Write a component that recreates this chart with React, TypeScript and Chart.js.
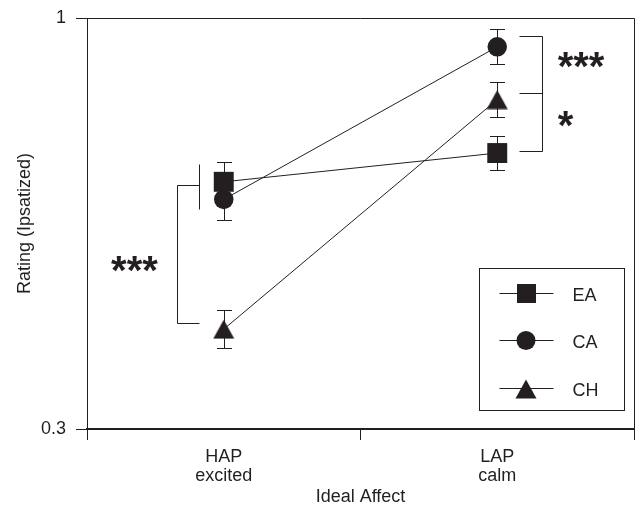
import React, { useEffect, useRef } from 'react';
import { Chart, registerables } from 'chart.js';

Chart.register(...registerables);

// ---------- data ----------
const categories: string[][] = [['HAP', 'excited'], ['LAP', 'calm']];
const categoryX = [0.5, 1.5];
const xTickValues = [0, 0.5, 1, 1.5, 2];
const yTickValues = [0.3, 1];
const yTickLabels = ['0.3', '1'];
const groupLabels = ['EA', 'CA', 'CH'];
const eaValues = [0.721, 0.77];
const caValues = [0.691, 0.951];
const chValues = [0.47, 0.861];
const eaErrors = [0.034, 0.0295];
const caErrors = [0.035, 0.03];
const chErrors = [0.032, 0.0295];

// significance brackets (axis units)
const bracketPaths: number[][][] = [
  [[0.411, 0.716], [0.329, 0.716], [0.329, 0.481], [0.411, 0.481]],
  [[0.411, 0.752], [0.411, 0.674]],
  [[1.58, 0.969], [1.665, 0.969], [1.665, 0.773], [1.58, 0.773]],
  [[1.58, 0.872], [1.665, 0.872]],
];
const starLabels = ['***', '***', '*'];
const starX = [0.088, 1.721, 1.721];
const starY = [0.581, 0.928, 0.8275];

const INK = '#231f20';
const FONT = "'Liberation Sans', Arial, Helvetica, sans-serif";

function makeTriangle(): HTMLCanvasElement {
  const c = document.createElement('canvas');
  c.width = 22;
  c.height = 20;
  const g = c.getContext('2d')!;
  g.fillStyle = INK;
  g.beginPath();
  g.moveTo(11, 0.5);
  g.lineTo(21.5, 19.5);
  g.lineTo(0.5, 19.5);
  g.closePath();
  g.fill();
  return c;
}

export default function App() {
  const ref = useRef<HTMLCanvasElement | null>(null);

  useEffect(() => {
    if (!ref.current) return;
    const tri = makeTriangle();
    const values = [eaValues, caValues, chValues];
    const errors = [eaErrors, caErrors, chErrors];
    const styles: any[] = ['rect', 'circle', tri];
    const radii = [14.1, 9.75, 10];

    const errorBarPlugin = {
      id: 'errorBars',
      beforeDatasetsDraw(chart: any) {
        const { ctx } = chart;
        const y = chart.scales.y;
        ctx.save();
        ctx.strokeStyle = INK;
        ctx.lineWidth = 1;
        chart.data.datasets.forEach((ds: any, di: number) => {
          const meta = chart.getDatasetMeta(di);
          meta.data.forEach((pt: any, i: number) => {
            const v = values[di][i];
            const e = errors[di][i];
            const x = Math.round(pt.x) + 0.5;
            const yt = Math.round(y.getPixelForValue(v + e)) + 0.5;
            const yb = Math.round(y.getPixelForValue(v - e)) + 0.5;
            ctx.beginPath();
            ctx.moveTo(x, yt);
            ctx.lineTo(x, yb);
            ctx.moveTo(x - 7.5, yt);
            ctx.lineTo(x + 7.5, yt);
            ctx.moveTo(x - 7.5, yb);
            ctx.lineTo(x + 7.5, yb);
            ctx.stroke();
          });
        });
        ctx.restore();
      },
    };

    const annotationPlugin = {
      id: 'annotations',
      afterDatasetsDraw(chart: any) {
        const { ctx } = chart;
        const xs = chart.scales.x;
        const ys = chart.scales.y;
        ctx.save();
        ctx.strokeStyle = INK;
        ctx.lineWidth = 1;
        bracketPaths.forEach((path) => {
          ctx.beginPath();
          path.forEach(([vx, vy], i) => {
            const px = Math.round(xs.getPixelForValue(vx)) + 0.5;
            const py = Math.round(ys.getPixelForValue(vy)) + 0.5;
            if (i === 0) ctx.moveTo(px, py);
            else ctx.lineTo(px, py);
          });
          ctx.stroke();
        });
        ctx.fillStyle = INK;
        ctx.font = `bold 40px ${FONT}`;
        ctx.textAlign = 'left';
        ctx.textBaseline = 'alphabetic';
        starLabels.forEach((s, i) => {
          const m = ctx.measureText(s);
          const cx = xs.getPixelForValue(starX[i]);
          const cy = ys.getPixelForValue(starY[i]);
          const baseline = cy + (m.actualBoundingBoxAscent - m.actualBoundingBoxDescent) / 2;
          ctx.fillText(s, cx + m.actualBoundingBoxLeft, baseline);
        });
        ctx.restore();
      },
    };

    const framePlugin = {
      id: 'frame',
      afterDraw(chart: any) {
        const { ctx, chartArea: a } = chart;
        ctx.save();
        ctx.strokeStyle = INK;
        ctx.lineWidth = 1;
        ctx.beginPath();
        ctx.moveTo(a.left, Math.round(a.top) + 0.5);
        ctx.lineTo(Math.round(a.right) + 0.5, Math.round(a.top) + 0.5);
        ctx.lineTo(Math.round(a.right) + 0.5, a.bottom);
        ctx.stroke();

        // legend
        const bx = Math.round(a.right - 155) + 0.5;
        const by = Math.round(a.bottom - 161) + 0.5;
        ctx.strokeRect(bx, by, 145, 142);
        ctx.fillStyle = INK;
        ctx.font = `18px ${FONT}`;
        ctx.textAlign = 'left';
        ctx.textBaseline = 'middle';
        groupLabels.forEach((label, i) => {
          const ry = Math.round(by + 24 + i * 47.5);
          const mx = bx + 46.5;
          ctx.beginPath();
          ctx.moveTo(bx + 20, ry + 0.5);
          ctx.lineTo(bx + 74, ry + 0.5);
          ctx.stroke();
          if (i === 0) {
            ctx.fillRect(Math.round(mx - 9.5), ry - 9, 19, 19);
          } else if (i === 1) {
            ctx.beginPath();
            ctx.arc(mx, ry + 0.5, 9.5, 0, Math.PI * 2);
            ctx.fill();
          } else {
            ctx.drawImage(tri, Math.round(mx - 11), ry - 9);
          }
          ctx.fillText(label, bx + 93, ry + 3);
        });
        ctx.restore();
      },
    };

    const chart = new Chart(ref.current, {
      type: 'line',
      data: {
        datasets: groupLabels.map((label, di) => ({
          label,
          data: categoryX.map((x, i) => ({ x, y: values[di][i] })),
          borderColor: INK,
          borderWidth: 1,
          backgroundColor: INK,
          pointStyle: styles[di],
          pointRadius: radii[di],
          pointBackgroundColor: INK,
          pointBorderWidth: 0,
          pointHoverRadius: radii[di],
          tension: 0,
          fill: false,
        })),
      },
      options: {
        responsive: false,
        animation: false,
        events: [],
        layout: { autoPadding: false, padding: { top: 18, right: 2, left: 0, bottom: 0 } },
        plugins: {
          legend: { display: false },
          tooltip: { enabled: false },
        },
        scales: {
          x: {
            type: 'linear',
            min: 0,
            max: 2,
            afterBuildTicks: (s: any) => {
              s.ticks = xTickValues.map((v) => ({ value: v }));
            },
            afterFit: (s: any) => {
              s.height = 77;
              s.paddingLeft = 0;
              s.paddingRight = 0;
            },
            ticks: {
              autoSkip: false,
              maxRotation: 0,
              padding: 8,
              color: INK,
              font: { size: 18, family: FONT, lineHeight: 1.02 },
              callback: (v: any) => {
                const idx = categoryX.indexOf(Number(v));
                return idx >= 0 ? categories[idx] : '';
              },
            },
            grid: {
              drawOnChartArea: false,
              tickLength: 11,
              color: INK,
              tickColor: (c: any) =>
                c.tick && Math.abs(c.tick.value % 1) > 0.01 ? 'rgba(0,0,0,0)' : INK,
            },
            border: { display: true, color: INK, width: 2 },
            title: {
              display: true,
              text: 'Ideal Affect',
              color: INK,
              font: { size: 18, family: FONT, lineHeight: 1.02 },
              padding: { top: 0, bottom: 0 },
            },
          },
          y: {
            type: 'linear',
            min: 0.3,
            max: 1,
            afterBuildTicks: (s: any) => {
              s.ticks = yTickValues.map((v) => ({ value: v }));
            },
            afterFit: (s: any) => {
              s.width = 87;
              s.paddingTop = 0;
              s.paddingBottom = 0;
            },
            ticks: {
              padding: 10,
              color: INK,
              font: { size: 18, family: FONT },
              callback: (v: any) => {
                const idx = yTickValues.indexOf(Number(v));
                return idx >= 0 ? yTickLabels[idx] : '';
              },
            },
            grid: { drawOnChartArea: false, tickLength: 11, color: INK },
            border: { display: true, color: INK, width: 1 },
            title: {
              display: true,
              text: 'Rating (Ipsatized)',
              color: INK,
              font: { size: 18, family: FONT, lineHeight: 1.02 },
              padding: { top: 16, bottom: 0 },
            },
          },
        },
      } as any,
      plugins: [errorBarPlugin, annotationPlugin, framePlugin],
    });
    return () => chart.destroy();
  }, []);

  return (
    <div style={{ position: 'absolute', left: 0, top: 0, width: 636, height: 506, background: '#fff' }}>
      <canvas ref={ref} width={636} height={506} style={{ display: 'block' }} />
    </div>
  );
}
